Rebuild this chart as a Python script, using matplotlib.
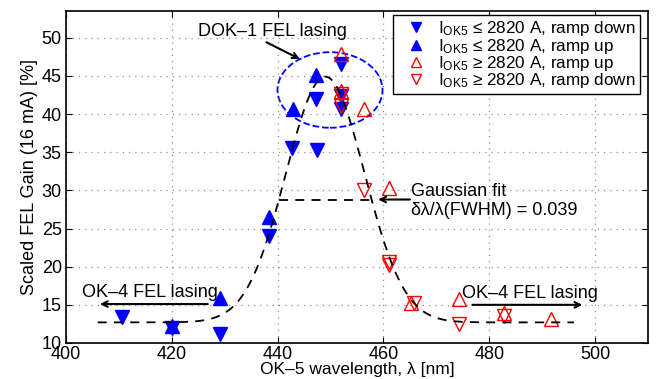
import numpy as np
import matplotlib
matplotlib.use("Agg")
import matplotlib.pyplot as plt
from matplotlib.patches import Ellipse

plt.rcParams['font.family'] = ['Liberation Sans', 'DejaVu Sans']
plt.rcParams['mathtext.fontset'] = 'custom'
plt.rcParams['mathtext.rm'] = 'Liberation Sans'
plt.rcParams['mathtext.it'] = 'Liberation Sans'

# Blue filled, I_OK5 <= 2820 A
low_down_x = [410.6, 420.0, 429.2, 438.3, 442.8, 447.4, 447.3, 452.0, 452.0, 452.0]
low_down_y = [13.4, 11.9, 11.2, 24.0, 35.6, 35.3, 42.0, 46.5, 42.4, 40.6]
low_up_x = [420.0, 429.2, 438.3, 442.9, 447.3]
low_up_y = [12.2, 15.9, 26.5, 40.7, 45.1]
# Red open, I_OK5 >= 2820 A
high_up_x = [452.0, 452.0, 456.4, 461.0, 465.3, 474.2, 482.8, 491.6]
high_up_y = [47.8, 43.0, 40.7, 30.3, 15.3, 15.7, 13.9, 13.1]
high_down_x = [452.0, 452.0, 456.4, 461.0, 461.0, 465.8, 474.2, 482.8]
high_down_y = [42.6, 41.0, 30.0, 20.2, 20.6, 15.3, 12.5, 13.5]

# Gaussian fit parameters
fit_base = 12.7
fit_amp = 32.2
fit_center = 449.0
fit_rel_fwhm = 0.039
fit_range = (406.0, 496.0)

xticks = [400, 420, 440, 460, 480, 500]
yticks = [10, 15, 20, 25, 30, 35, 40, 45, 50]

fig = plt.figure(figsize=(6.56, 3.79), dpi=100)
ax = fig.add_axes([0.1006, 0.095, 0.8872, 0.876])

fs = 13
ms = 9.5
ax.plot(low_down_x, low_down_y, 'v', color='blue', ms=ms, ls='none',
        label=r'$\mathregular{I_{OK5}}$ ≤ 2820 A, ramp down')
ax.plot(low_up_x, low_up_y, '^', color='blue', ms=ms, ls='none',
        label=r'$\mathregular{I_{OK5}}$ ≤ 2820 A, ramp up')
ax.plot(high_up_x, high_up_y, '^', mfc='none', mec='red', ms=ms, mew=1, ls='none',
        label=r'$\mathregular{I_{OK5}}$ ≥ 2820 A, ramp up')
ax.plot(high_down_x, high_down_y, 'v', mfc='none', mec='red', ms=ms, mew=1, ls='none',
        label=r'$\mathregular{I_{OK5}}$ ≥ 2820 A, ramp down')

fwhm = fit_rel_fwhm * fit_center
sigma = fwhm / 2.3548
xf = np.linspace(fit_range[0], fit_range[1], 400)
yf = fit_base + fit_amp * np.exp(-(xf - fit_center) ** 2 / (2 * sigma ** 2))
ax.plot(xf, yf, '--', color='black', lw=1.3, dashes=(5, 4))
half = fit_base + fit_amp / 2
ax.plot([fit_center - fwhm / 2, fit_center + fwhm / 2], [half, half], '--',
        color='black', lw=1.3, dashes=(5, 4))

ax.add_patch(Ellipse((449.9, 43.15), 19.85, 9.9, fill=False, ec='blue',
                     ls='--', lw=1.3))

arrow = dict(arrowstyle='->', color='black', lw=1.5, shrinkA=0, shrinkB=0)
ax.annotate('', xy=(444.2, 47.2), xytext=(437.9, 49.4), arrowprops=arrow)
ax.text(439.0, 50.8, 'DOK\u20131 FEL lasing', fontsize=13, ha='center', va='center')

ax.annotate('', xy=(459.0, half), xytext=(465.0, half), arrowprops=arrow)
ax.text(465.2, 29.9, 'Gaussian fit', fontsize=fs, ha='left', va='center')
ax.text(465.2, 27.3, 'δλ/λ(FWHM) = 0.039', fontsize=fs, ha='left', va='center')

ax.annotate('', xy=(406.4, 15.1), xytext=(426.8, 15.1), arrowprops=arrow)
ax.text(403.0, 16.6, 'OK\u20134 FEL lasing', fontsize=fs, ha='left', va='center')
ax.annotate('', xy=(497.6, 15.0), xytext=(476.8, 15.0), arrowprops=arrow)
ax.text(474.8, 16.5, 'OK\u20134 FEL lasing', fontsize=fs, ha='left', va='center')

ax.set_xlim(400, 510)
ax.set_ylim(10, 53.5)
ax.set_xticks(xticks)
ax.set_yticks(yticks)
ax.tick_params(direction='in', top=True, right=True, labelsize=fs, length=4)
ax.tick_params(axis='x', pad=2)
ax.tick_params(axis='y', pad=3)
ax.grid(True, ls=(0, (1, 4)), color='#909090', lw=0.9)
for s in ax.spines.values():
    s.set_linewidth(1.2)
ax.set_xlabel('OK\u20135 wavelength, λ [nm]', fontsize=12.5, labelpad=-0.5)
ax.set_ylabel('Scaled FEL Gain (16 mA) [%]', fontsize=fs, labelpad=3)

leg = ax.legend(loc='upper right', bbox_to_anchor=(0.9863, 0.988), borderaxespad=0,
                fontsize=12.3, frameon=True, fancybox=False, markerscale=0.75,
                edgecolor='black', framealpha=1, borderpad=0.25, labelspacing=-0.1,
                handletextpad=0.2, handlelength=2.2)
leg.get_frame().set_linewidth(1.0)

fig.savefig('out.png', dpi=100)
